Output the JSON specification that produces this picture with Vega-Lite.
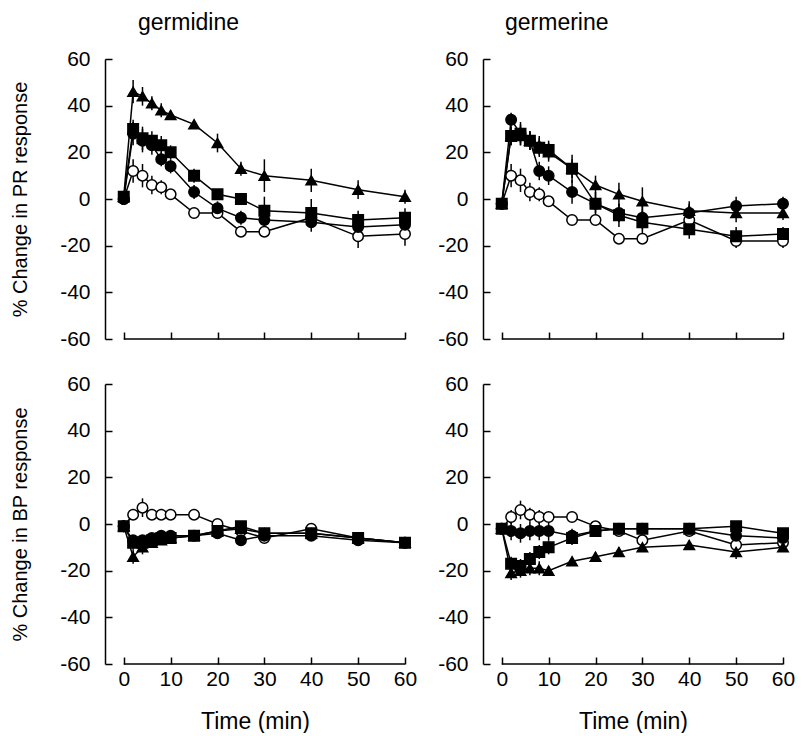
{
"$schema":"https://vega.github.io/schema/vega-lite/v6.json",
"padding":{"left":10,"top":12,"right":0,"bottom":0},
"background":"white",
"datasets":{"d":[
{"p":"A","s":"o","t":0,"v":0,"e":1},{"p":"A","s":"o","t":2,"v":12,"e":5},{"p":"A","s":"o","t":4,"v":10,"e":5},{"p":"A","s":"o","t":6,"v":6,"e":4},{"p":"A","s":"o","t":8,"v":5,"e":3},{"p":"A","s":"o","t":10,"v":2,"e":2},{"p":"A","s":"o","t":15,"v":-6,"e":1},{"p":"A","s":"o","t":20,"v":-6,"e":2},{"p":"A","s":"o","t":25,"v":-14,"e":2},{"p":"A","s":"o","t":30,"v":-14,"e":2},{"p":"A","s":"o","t":40,"v":-8,"e":2},{"p":"A","s":"o","t":50,"v":-16,"e":5},{"p":"A","s":"o","t":60,"v":-15,"e":5},
{"p":"A","s":"c","t":0,"v":0,"e":1},{"p":"A","s":"c","t":2,"v":28,"e":5},{"p":"A","s":"c","t":4,"v":25,"e":5},{"p":"A","s":"c","t":6,"v":23,"e":4},{"p":"A","s":"c","t":8,"v":17,"e":3},{"p":"A","s":"c","t":10,"v":14,"e":3},{"p":"A","s":"c","t":15,"v":3,"e":3},{"p":"A","s":"c","t":20,"v":-4,"e":3},{"p":"A","s":"c","t":25,"v":-8,"e":3},{"p":"A","s":"c","t":30,"v":-9,"e":3},{"p":"A","s":"c","t":40,"v":-10,"e":4},{"p":"A","s":"c","t":50,"v":-12,"e":3},{"p":"A","s":"c","t":60,"v":-11,"e":3},
{"p":"A","s":"s","t":0,"v":1,"e":1},{"p":"A","s":"s","t":2,"v":30,"e":4},{"p":"A","s":"s","t":4,"v":26,"e":5},{"p":"A","s":"s","t":6,"v":25,"e":4},{"p":"A","s":"s","t":8,"v":23,"e":4},{"p":"A","s":"s","t":10,"v":20,"e":3},{"p":"A","s":"s","t":15,"v":10,"e":3},{"p":"A","s":"s","t":20,"v":2,"e":2},{"p":"A","s":"s","t":25,"v":0,"e":2},{"p":"A","s":"s","t":30,"v":-5,"e":6},{"p":"A","s":"s","t":40,"v":-6,"e":6},{"p":"A","s":"s","t":50,"v":-9,"e":4},{"p":"A","s":"s","t":60,"v":-8,"e":4},
{"p":"A","s":"t","t":0,"v":1,"e":1},{"p":"A","s":"t","t":2,"v":46,"e":5},{"p":"A","s":"t","t":4,"v":44,"e":4},{"p":"A","s":"t","t":6,"v":41,"e":3},{"p":"A","s":"t","t":8,"v":38,"e":3},{"p":"A","s":"t","t":10,"v":36,"e":2},{"p":"A","s":"t","t":15,"v":32,"e":2},{"p":"A","s":"t","t":20,"v":24,"e":4},{"p":"A","s":"t","t":25,"v":13,"e":3},{"p":"A","s":"t","t":30,"v":10,"e":7},{"p":"A","s":"t","t":40,"v":8,"e":5},{"p":"A","s":"t","t":50,"v":4,"e":4},{"p":"A","s":"t","t":60,"v":1,"e":3},
{"p":"B","s":"o","t":0,"v":-2,"e":1},{"p":"B","s":"o","t":2,"v":10,"e":5},{"p":"B","s":"o","t":4,"v":8,"e":5},{"p":"B","s":"o","t":6,"v":3,"e":4},{"p":"B","s":"o","t":8,"v":2,"e":3},{"p":"B","s":"o","t":10,"v":-1,"e":2},{"p":"B","s":"o","t":15,"v":-9,"e":1},{"p":"B","s":"o","t":20,"v":-9,"e":2},{"p":"B","s":"o","t":25,"v":-17,"e":2},{"p":"B","s":"o","t":30,"v":-17,"e":2},{"p":"B","s":"o","t":40,"v":-9,"e":3},{"p":"B","s":"o","t":50,"v":-18,"e":3},{"p":"B","s":"o","t":60,"v":-18,"e":3},
{"p":"B","s":"c","t":0,"v":-2,"e":1},{"p":"B","s":"c","t":2,"v":34,"e":3},{"p":"B","s":"c","t":4,"v":28,"e":5},{"p":"B","s":"c","t":6,"v":25,"e":4},{"p":"B","s":"c","t":8,"v":12,"e":4},{"p":"B","s":"c","t":10,"v":10,"e":4},{"p":"B","s":"c","t":15,"v":3,"e":5},{"p":"B","s":"c","t":20,"v":-2,"e":4},{"p":"B","s":"c","t":25,"v":-6,"e":4},{"p":"B","s":"c","t":30,"v":-8,"e":5},{"p":"B","s":"c","t":40,"v":-6,"e":4},{"p":"B","s":"c","t":50,"v":-3,"e":4},{"p":"B","s":"c","t":60,"v":-2,"e":3},
{"p":"B","s":"s","t":0,"v":-2,"e":1},{"p":"B","s":"s","t":2,"v":27,"e":4},{"p":"B","s":"s","t":4,"v":28,"e":4},{"p":"B","s":"s","t":6,"v":25,"e":4},{"p":"B","s":"s","t":8,"v":22,"e":4},{"p":"B","s":"s","t":10,"v":21,"e":4},{"p":"B","s":"s","t":15,"v":13,"e":6},{"p":"B","s":"s","t":20,"v":-2,"e":5},{"p":"B","s":"s","t":25,"v":-7,"e":5},{"p":"B","s":"s","t":30,"v":-10,"e":5},{"p":"B","s":"s","t":40,"v":-13,"e":4},{"p":"B","s":"s","t":50,"v":-16,"e":4},{"p":"B","s":"s","t":60,"v":-15,"e":3},
{"p":"B","s":"t","t":0,"v":-2,"e":1},{"p":"B","s":"t","t":2,"v":27,"e":4},{"p":"B","s":"t","t":4,"v":27,"e":4},{"p":"B","s":"t","t":6,"v":25,"e":4},{"p":"B","s":"t","t":8,"v":23,"e":4},{"p":"B","s":"t","t":10,"v":20,"e":4},{"p":"B","s":"t","t":15,"v":13,"e":4},{"p":"B","s":"t","t":20,"v":6,"e":4},{"p":"B","s":"t","t":25,"v":2,"e":5},{"p":"B","s":"t","t":30,"v":-1,"e":6},{"p":"B","s":"t","t":40,"v":-5,"e":4},{"p":"B","s":"t","t":50,"v":-6,"e":4},{"p":"B","s":"t","t":60,"v":-6,"e":3},
{"p":"C","s":"o","t":0,"v":-1,"e":1},{"p":"C","s":"o","t":2,"v":4,"e":2},{"p":"C","s":"o","t":4,"v":7,"e":4},{"p":"C","s":"o","t":6,"v":4,"e":2},{"p":"C","s":"o","t":8,"v":4,"e":2},{"p":"C","s":"o","t":10,"v":4,"e":1},{"p":"C","s":"o","t":15,"v":4,"e":1},{"p":"C","s":"o","t":20,"v":0,"e":1},{"p":"C","s":"o","t":25,"v":-3,"e":1},{"p":"C","s":"o","t":30,"v":-6,"e":1},{"p":"C","s":"o","t":40,"v":-2,"e":1},{"p":"C","s":"o","t":50,"v":-6,"e":1},{"p":"C","s":"o","t":60,"v":-8,"e":1},
{"p":"C","s":"c","t":0,"v":-1,"e":1},{"p":"C","s":"c","t":2,"v":-7,"e":2},{"p":"C","s":"c","t":4,"v":-7,"e":2},{"p":"C","s":"c","t":6,"v":-6,"e":2},{"p":"C","s":"c","t":8,"v":-5,"e":2},{"p":"C","s":"c","t":10,"v":-5,"e":2},{"p":"C","s":"c","t":15,"v":-5,"e":2},{"p":"C","s":"c","t":20,"v":-4,"e":2},{"p":"C","s":"c","t":25,"v":-7,"e":2},{"p":"C","s":"c","t":30,"v":-5,"e":2},{"p":"C","s":"c","t":40,"v":-5,"e":2},{"p":"C","s":"c","t":50,"v":-7,"e":2},{"p":"C","s":"c","t":60,"v":-8,"e":2},
{"p":"C","s":"s","t":0,"v":-1,"e":1},{"p":"C","s":"s","t":2,"v":-8,"e":3},{"p":"C","s":"s","t":4,"v":-8,"e":3},{"p":"C","s":"s","t":6,"v":-7,"e":2},{"p":"C","s":"s","t":8,"v":-6,"e":2},{"p":"C","s":"s","t":10,"v":-6,"e":2},{"p":"C","s":"s","t":15,"v":-5,"e":2},{"p":"C","s":"s","t":20,"v":-3,"e":2},{"p":"C","s":"s","t":25,"v":-1,"e":2},{"p":"C","s":"s","t":30,"v":-4,"e":2},{"p":"C","s":"s","t":40,"v":-4,"e":2},{"p":"C","s":"s","t":50,"v":-6,"e":2},{"p":"C","s":"s","t":60,"v":-8,"e":2},
{"p":"C","s":"t","t":0,"v":-1,"e":1},{"p":"C","s":"t","t":2,"v":-14,"e":3},{"p":"C","s":"t","t":4,"v":-10,"e":3},{"p":"C","s":"t","t":6,"v":-8,"e":2},{"p":"C","s":"t","t":8,"v":-7,"e":2},{"p":"C","s":"t","t":10,"v":-6,"e":2},{"p":"C","s":"t","t":15,"v":-5,"e":2},{"p":"C","s":"t","t":20,"v":-3,"e":2},{"p":"C","s":"t","t":25,"v":-2,"e":2},{"p":"C","s":"t","t":30,"v":-4,"e":2},{"p":"C","s":"t","t":40,"v":-4,"e":2},{"p":"C","s":"t","t":50,"v":-6,"e":2},{"p":"C","s":"t","t":60,"v":-8,"e":2},
{"p":"D","s":"o","t":0,"v":-2,"e":1},{"p":"D","s":"o","t":2,"v":3,"e":3},{"p":"D","s":"o","t":4,"v":6,"e":4},{"p":"D","s":"o","t":6,"v":4,"e":3},{"p":"D","s":"o","t":8,"v":3,"e":3},{"p":"D","s":"o","t":10,"v":3,"e":2},{"p":"D","s":"o","t":15,"v":3,"e":1},{"p":"D","s":"o","t":20,"v":-1,"e":1},{"p":"D","s":"o","t":25,"v":-3,"e":1},{"p":"D","s":"o","t":30,"v":-7,"e":1},{"p":"D","s":"o","t":40,"v":-3,"e":1},{"p":"D","s":"o","t":50,"v":-9,"e":1},{"p":"D","s":"o","t":60,"v":-8,"e":1},
{"p":"D","s":"c","t":0,"v":-2,"e":1},{"p":"D","s":"c","t":2,"v":-3,"e":4},{"p":"D","s":"c","t":4,"v":-4,"e":4},{"p":"D","s":"c","t":6,"v":-3,"e":4},{"p":"D","s":"c","t":8,"v":-3,"e":4},{"p":"D","s":"c","t":10,"v":-3,"e":4},{"p":"D","s":"c","t":15,"v":-5,"e":3},{"p":"D","s":"c","t":20,"v":-3,"e":2},{"p":"D","s":"c","t":25,"v":-2,"e":2},{"p":"D","s":"c","t":30,"v":-2,"e":2},{"p":"D","s":"c","t":40,"v":-2,"e":2},{"p":"D","s":"c","t":50,"v":-5,"e":2},{"p":"D","s":"c","t":60,"v":-6,"e":2},
{"p":"D","s":"s","t":0,"v":-2,"e":1},{"p":"D","s":"s","t":2,"v":-17,"e":3},{"p":"D","s":"s","t":4,"v":-18,"e":3},{"p":"D","s":"s","t":6,"v":-15,"e":3},{"p":"D","s":"s","t":8,"v":-12,"e":3},{"p":"D","s":"s","t":10,"v":-10,"e":3},{"p":"D","s":"s","t":15,"v":-6,"e":3},{"p":"D","s":"s","t":20,"v":-3,"e":2},{"p":"D","s":"s","t":25,"v":-2,"e":2},{"p":"D","s":"s","t":30,"v":-2,"e":2},{"p":"D","s":"s","t":40,"v":-2,"e":2},{"p":"D","s":"s","t":50,"v":-1,"e":2},{"p":"D","s":"s","t":60,"v":-4,"e":2},
{"p":"D","s":"t","t":0,"v":-2,"e":1},{"p":"D","s":"t","t":2,"v":-21,"e":3},{"p":"D","s":"t","t":4,"v":-20,"e":3},{"p":"D","s":"t","t":6,"v":-19,"e":3},{"p":"D","s":"t","t":8,"v":-19,"e":3},{"p":"D","s":"t","t":10,"v":-20,"e":2},{"p":"D","s":"t","t":15,"v":-16,"e":2},{"p":"D","s":"t","t":20,"v":-14,"e":2},{"p":"D","s":"t","t":25,"v":-12,"e":2},{"p":"D","s":"t","t":30,"v":-10,"e":2},{"p":"D","s":"t","t":40,"v":-9,"e":2},{"p":"D","s":"t","t":50,"v":-12,"e":3},{"p":"D","s":"t","t":60,"v":-10,"e":2}
]},
"columns":2,
"spacing":{"row":24,"column":20},
"concat":[
{"width":300,"height":280,
 "title":{"text":"germidine","anchor":"start","frame":"group","dx":33,"offset":13},
 "layer":[
  {"data":{"name":"d"},"transform":[{"filter":"datum.p==='A'"}],
   "encoding":{"x":{"field":"t","type":"quantitative","scale":{"domain":[-4,60],"nice":false},"axis":{"values":[0,10,20,30,40,50,60],"labels":false,"domain":false,"title":null}},
     "y":{"field":"v","type":"quantitative","scale":{"domain":[-60,60],"nice":false},"axis":{"values":[-60,-40,-20,0,20,40,60],"title":"% Change in PR response"}}},
   "layer":[
    {"mark":{"type":"errorbar","rule":{"color":"black","strokeWidth":1.5}},"encoding":{"yError":{"field":"e"}}},
    {"mark":{"type":"line","color":"black","strokeWidth":1.5},"encoding":{"detail":{"field":"s"}}},
    {"mark":{"type":"point","filled":true,"size":110,"stroke":"black","strokeWidth":1.5,"opacity":1},
     "encoding":{"shape":{"field":"s","scale":{"domain":["o","c","s","t"],"range":["circle","circle","square","triangle-up"]},"legend":null},
       "fill":{"field":"s","scale":{"domain":["o","c","s","t"],"range":["white","black","black","black"]},"legend":null}}}
   ]},
  {"data":{"values":[{}]},"mark":{"type":"rule","color":"black","strokeWidth":1.5},
   "encoding":{"x":{"datum":0,"type":"quantitative"},"x2":{"datum":60},"y":{"datum":-60,"type":"quantitative"}}}
 ]},
{"width":300,"height":280,
 "title":{"text":"germerine","anchor":"start","frame":"group","dx":22,"offset":13},
 "layer":[
  {"data":{"name":"d"},"transform":[{"filter":"datum.p==='B'"}],
   "encoding":{"x":{"field":"t","type":"quantitative","scale":{"domain":[-4,60],"nice":false},"axis":{"values":[0,10,20,30,40,50,60],"labels":false,"domain":false,"title":null}},
     "y":{"field":"v","type":"quantitative","scale":{"domain":[-60,60],"nice":false},"axis":{"values":[-60,-40,-20,0,20,40,60],"title":null}}},
   "layer":[
    {"mark":{"type":"errorbar","rule":{"color":"black","strokeWidth":1.5}},"encoding":{"yError":{"field":"e"}}},
    {"mark":{"type":"line","color":"black","strokeWidth":1.5},"encoding":{"detail":{"field":"s"}}},
    {"mark":{"type":"point","filled":true,"size":110,"stroke":"black","strokeWidth":1.5,"opacity":1},
     "encoding":{"shape":{"field":"s","scale":{"domain":["o","c","s","t"],"range":["circle","circle","square","triangle-up"]},"legend":null},
       "fill":{"field":"s","scale":{"domain":["o","c","s","t"],"range":["white","black","black","black"]},"legend":null}}}
   ]},
  {"data":{"values":[{}]},"mark":{"type":"rule","color":"black","strokeWidth":1.5},
   "encoding":{"x":{"datum":0,"type":"quantitative"},"x2":{"datum":60},"y":{"datum":-60,"type":"quantitative"}}}
 ]},
{"width":300,"height":280,
 "layer":[
  {"data":{"name":"d"},"transform":[{"filter":"datum.p==='C'"}],
   "encoding":{"x":{"field":"t","type":"quantitative","scale":{"domain":[-4,60],"nice":false},"axis":{"values":[0,10,20,30,40,50,60],"domain":false,"title":"Time (min)"}},
     "y":{"field":"v","type":"quantitative","scale":{"domain":[-60,60],"nice":false},"axis":{"values":[-60,-40,-20,0,20,40,60],"title":"% Change in BP response"}}},
   "layer":[
    {"mark":{"type":"errorbar","rule":{"color":"black","strokeWidth":1.5}},"encoding":{"yError":{"field":"e"}}},
    {"mark":{"type":"line","color":"black","strokeWidth":1.5},"encoding":{"detail":{"field":"s"}}},
    {"mark":{"type":"point","filled":true,"size":110,"stroke":"black","strokeWidth":1.5,"opacity":1},
     "encoding":{"shape":{"field":"s","scale":{"domain":["o","c","s","t"],"range":["circle","circle","square","triangle-up"]},"legend":null},
       "fill":{"field":"s","scale":{"domain":["o","c","s","t"],"range":["white","black","black","black"]},"legend":null}}}
   ]},
  {"data":{"values":[{}]},"mark":{"type":"rule","color":"black","strokeWidth":1.5},
   "encoding":{"x":{"datum":0,"type":"quantitative"},"x2":{"datum":60},"y":{"datum":-60,"type":"quantitative"}}}
 ]},
{"width":300,"height":280,
 "layer":[
  {"data":{"name":"d"},"transform":[{"filter":"datum.p==='D'"}],
   "encoding":{"x":{"field":"t","type":"quantitative","scale":{"domain":[-4,60],"nice":false},"axis":{"values":[0,10,20,30,40,50,60],"domain":false,"title":"Time (min)"}},
     "y":{"field":"v","type":"quantitative","scale":{"domain":[-60,60],"nice":false},"axis":{"values":[-60,-40,-20,0,20,40,60],"title":null}}},
   "layer":[
    {"mark":{"type":"errorbar","rule":{"color":"black","strokeWidth":1.5}},"encoding":{"yError":{"field":"e"}}},
    {"mark":{"type":"line","color":"black","strokeWidth":1.5},"encoding":{"detail":{"field":"s"}}},
    {"mark":{"type":"point","filled":true,"size":110,"stroke":"black","strokeWidth":1.5,"opacity":1},
     "encoding":{"shape":{"field":"s","scale":{"domain":["o","c","s","t"],"range":["circle","circle","square","triangle-up"]},"legend":null},
       "fill":{"field":"s","scale":{"domain":["o","c","s","t"],"range":["white","black","black","black"]},"legend":null}}}
   ]},
  {"data":{"values":[{}]},"mark":{"type":"rule","color":"black","strokeWidth":1.5},
   "encoding":{"x":{"datum":0,"type":"quantitative"},"x2":{"datum":60},"y":{"datum":-60,"type":"quantitative"}}}
 ]}
],
"config":{
 "view":{"stroke":null},
 "title":{"font":"Liberation Sans","fontSize":23,"fontWeight":"normal","color":"black"},
 "axis":{"grid":false,"labelFont":"Liberation Sans","titleFont":"Liberation Sans","labelFontSize":21,"titleFontSize":20,"titleFontWeight":"normal","labelColor":"black","titleColor":"black","domainColor":"black","tickColor":"black","domainWidth":1.5,"tickWidth":1.5,"tickSize":-7,"labelPadding":11,"labelFlush":false},
 "axisY":{"labelPadding":22,"titlePadding":29,"labelExpr":"replace(datum.label, '\u2212', '-')"},
 "axisX":{"titlePadding":21,"titleFontSize":23}
}
}
